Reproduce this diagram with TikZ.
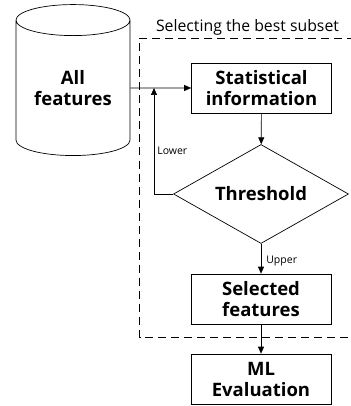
\documentclass[tikz,border=0pt]{standalone}
\usepackage{fontspec}
\setmainfont{Open Sans}
\usetikzlibrary{shapes.geometric,arrows.meta,positioning}

\tikzset{
  box/.style={draw, minimum width=140pt, minimum height=50pt, inner sep=0pt,
    align=center, font=\fontsize{18.5}{21}\selectfont\bfseries},
  store/.style={draw, cylinder, shape border rotate=90, aspect=0.4,
    minimum width=114pt, minimum height=151pt, inner sep=0pt,
    align=center, font=\fontsize{18.5}{21}\selectfont\bfseries},
  test/.style={draw, diamond, aspect=1.77, minimum width=175pt,
    minimum height=99pt, inner sep=0pt, font=\fontsize{18.5}{21}\selectfont\bfseries},
  frame/.style={dash pattern=on 8pt off 5pt},
  tag/.style={font=\fontsize{10.5}{12}\selectfont, inner sep=1pt}
}

\begin{document}
\begin{tikzpicture}[x=1pt, y=-1pt, line width=0.7pt, >={Triangle[length=7pt,width=6pt]}]
\useasboundingbox (0,0) rectangle (350,406);

% data base
\node[store] (all) at (73,88) {All\\features};

% selection part
\draw[frame] (355,38) -- (139.5,38) -- (139.5,337) -- (355,337);
\node[font=\fontsize{15.8}{18}\selectfont, inner sep=0pt] (title) at (247.5,27) {Selecting the best subset};

\node[box] (stat) at (261.5,88) {Statistical\\information};
\node[test] (thr) at (261,194) {Threshold};
\node[box] (sel) at (261,299) {Selected\\features};

% evaluation
\node[box] (ml) at (261,379) {ML\\Evaluation};

\coordinate (join) at (154,88);

\draw[->] (all.east) -- (stat.west);
\draw[->] (stat) -- (thr);
\draw[->] (thr.west) -| (join);
\draw[->] (thr) -- (sel);
\draw[->] (sel) -- (ml);

\node[tag, right] (low) at (156,151) {Lower};
\node[tag, right] (up) at (265,261) {Upper};

\end{tikzpicture}
\end{document}
